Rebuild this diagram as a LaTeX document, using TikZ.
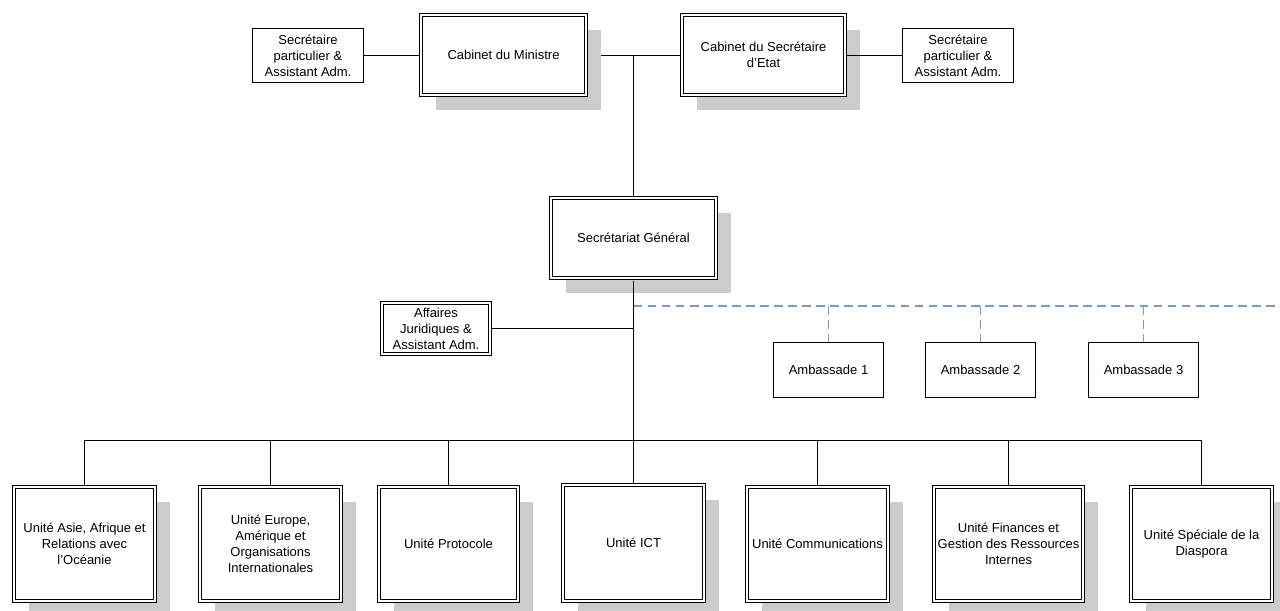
\documentclass[tikz,border=0pt]{standalone}
\usepackage{fontspec}
\setmainfont{Liberation Sans}
\usetikzlibrary{shadows}
\definecolor{dashblue}{RGB}{120,152,212}
\definecolor{shadowgray}{RGB}{204,204,204}
\pgfdeclarelayer{background}
\pgfsetlayers{background,main}
\tikzset{
  every node/.style={font=\fontsize{7.4pt}{9.1pt}\selectfont, align=center, inner sep=0pt},
  plainbox/.style={draw, line width=0.02cm, fill=white},
  dblbox/.style={draw, line width=0.02cm, double=white, double distance=0.04cm, fill=white},
  shad/.style={drop shadow={shadow xshift=0.3cm, shadow yshift=-0.3cm, fill=shadowgray, opacity=1}},
  conn/.style={line width=0.02cm},
  dconn/.style={draw=dashblue, line width=1.1pt, dash pattern=on 5pt off 3pt},
}
\begin{document}
\begin{tikzpicture}[x=0.02cm,y=-0.02cm]
\useasboundingbox (0,0) rectangle (1280,610);
% top row
\node[plainbox, minimum width=2.22cm, minimum height=1.08cm] (tl) at (308,55.5) {Secrétaire\\particulier \&\\Assistant Adm.};
\node[dblbox, shad, minimum width=3.3cm, minimum height=1.6cm] (cm) at (503.5,55) {Cabinet du Ministre};
\node[dblbox, shad, minimum width=3.26cm, minimum height=1.6cm] (cs) at (763.5,55) {Cabinet du Secrétaire\\d’Etat};
\node[plainbox, minimum width=2.22cm, minimum height=1.08cm] (tr) at (958,55.5) {Secrétaire\\particulier \&\\Assistant Adm.};
% secretariat
\node[dblbox, shad, minimum width=3.3cm, minimum height=1.6cm] (sg) at (633.5,238) {Secrétariat Général};
\node[dblbox, minimum width=2.16cm, minimum height=1.02cm] (aj) at (436,328.5) {Affaires\\Juridiques \&\\Assistant Adm.};
% embassies
\node[plainbox, minimum width=2.2cm, minimum height=1.1cm] (a1) at (828.5,370) {Ambassade 1};
\node[plainbox, minimum width=2.2cm, minimum height=1.1cm] (a2) at (980.5,370) {Ambassade 2};
\node[plainbox, minimum width=2.2cm, minimum height=1.1cm] (a3) at (1143.5,370) {Ambassade 3};
% units
\node[dblbox, shad, minimum width=2.82cm, minimum height=2.28cm] (u1) at (84.5,544) {Unité Asie, Afrique et\\Relations avec\\l’Océanie};
\node[dblbox, shad, minimum width=2.82cm, minimum height=2.28cm] (u2) at (270.5,544) {Unité Europe,\\Amérique et\\Organisations\\Internationales};
\node[dblbox, shad, minimum width=2.78cm, minimum height=2.28cm] (u3) at (448.5,544) {Unité Protocole};
\node[dblbox, shad, minimum width=2.82cm, minimum height=2.32cm] (u4) at (633.5,543) {Unité ICT};
\node[dblbox, shad, minimum width=2.82cm, minimum height=2.28cm] (u5) at (817.5,544) {Unité Communications};
\node[dblbox, shad, minimum width=2.98cm, minimum height=2.28cm] (u6) at (1008.5,544) {Unité Finances et\\Gestion des Ressources\\Internes};
\node[dblbox, shad, minimum width=2.82cm, minimum height=2.28cm] (u7) at (1201.5,544) {Unité Spéciale de la\\Diaspora};
% coordinates
\coordinate (j1) at (633.5,55.5);
\coordinate (bus) at (633.5,440.5);
\coordinate (dstart) at (633.5,306);
\coordinate (dend) at (1280,306);
\begin{pgfonlayer}{background}
% connectors behind nodes
\draw[conn] (tl.east) -- (tl.east -| cm.west);
\draw[conn] (cm.east |- j1) -- (cs.west |- j1);
\draw[conn] (j1) -- (sg.north);
\draw[conn] (bus) -- (u4.north);
\draw[conn] (aj.east) -- (aj.east -| sg.south);
\draw[conn] (u1.north) -- (u1.north |- bus) -- (u7.north |- bus) -- (u7.north);
\foreach \u in {u2,u3,u5,u6} {\draw[conn] (\u.north) -- (\u.north |- bus);}
% dashed embassy links
\draw[dconn] (dstart) -- (dend);
\foreach \a in {a1,a2,a3} {\draw[dconn] (\a.north |- dstart) -- (\a.north);}
\end{pgfonlayer}
% connectors drawn over shadows
\draw[conn] ([xshift=0.04cm]cs.east |- tr.west) -- (tr.west);
\draw[conn] ([yshift=-0.04cm]sg.south) -- (bus);
\end{tikzpicture}
\end{document}
